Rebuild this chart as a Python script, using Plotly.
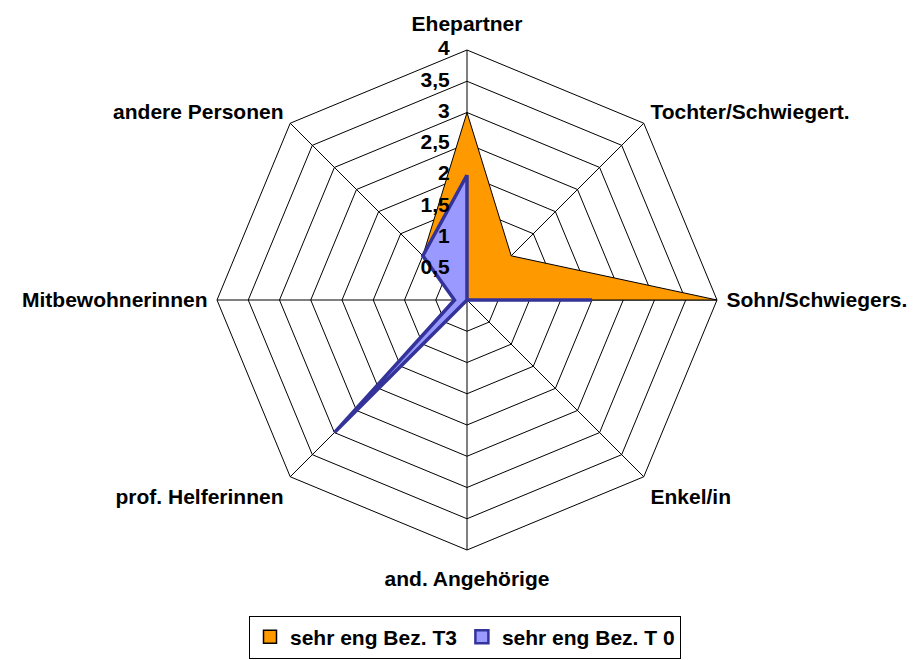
import plotly.graph_objects as go

categories = ["Ehepartner", "Tochter/Schwiegert.", "Sohn/Schwiegers.", "Enkel/in",
              "and. Angehörige", "prof. Helferinnen", "Mitbewohnerinnen", "andere Personen"]
t3_values = [3, 1, 4, 0, 0, 3, 0.2, 1]
t0_values = [2, 0, 2, 0, 0, 3, 0.2, 1]
tick_vals = [0, 0.5, 1, 1.5, 2, 2.5, 3, 3.5, 4]
tick_text = ["0", "0,5", "1", "1,5", "2", "2,5", "3", "3,5", "4"]
series_names = ["sehr eng Bez. T3", "sehr eng Bez. T 0"]

FONT = "Liberation Sans, Arial, sans-serif"
FS = 21
BOLD = dict(size=FS, family=FONT, color="black", weight="bold")

# labels on the vertical axis sit a little further out than the others
vertical_cats = [categories[0], categories[4]]
other_cats = [c for c in categories if c not in vertical_cats]

cat_closed = categories + [categories[0]]
fig = go.Figure()
fig.add_trace(go.Scatterpolar(
    r=t3_values + [t3_values[0]], theta=cat_closed, mode="lines", fill="toself",
    name=series_names[0], fillcolor="#FF9900", showlegend=False, hoverinfo="skip",
    line=dict(color="#000000", width=1)))
fig.add_trace(go.Scatterpolar(
    r=t0_values + [t0_values[0]], theta=cat_closed, mode="lines", fill="toself",
    name=series_names[1], fillcolor="#9999FF", showlegend=False, hoverinfo="skip",
    line=dict(color="#333399", width=3.5)))
# radial tick labels drawn above the fills
fig.add_trace(go.Scatterpolar(
    r=tick_vals, theta=[categories[0]] * len(tick_vals), mode="markers+text",
    text=tick_text, textposition="middle left", textfont=BOLD, showlegend=False,
    hoverinfo="skip", marker=dict(size=26, opacity=0)))
# category labels on slightly larger, invisible polars
for sp in ["polar2", "polar3"]:
    fig.add_trace(go.Scatterpolar(
        r=[None] * len(categories), theta=categories, mode="lines", subplot=sp,
        showlegend=False, hoverinfo="skip"))
# legend entries with square symbols
fig.add_trace(go.Scatterpolar(
    r=[None], theta=[categories[0]], mode="markers", name=series_names[0],
    marker=dict(symbol="square", size=13, color="#FF9900", line=dict(color="black", width=1.5))))
fig.add_trace(go.Scatterpolar(
    r=[None], theta=[categories[0]], mode="markers", name=series_names[1],
    marker=dict(symbol="square", size=13, color="#9999FF", line=dict(color="#333399", width=2.5))))

W, H = 918, 660
OFF = 8  # page body margin
cx, cy, R = 467 - OFF, 300 - OFF, 250
R2, R3 = 259, 264
mt = cy - R3
pw = 2 * R3


def inset(r):
    v = (R3 - r) / pw
    return [v, 1 - v]


def label_axis(shown):
    return dict(rotation=90, direction="clockwise", showline=False, showgrid=False,
                ticks="", tickfont=BOLD, categoryarray=categories, categoryorder="array",
                tickmode="array", tickvals=categories,
                ticktext=[c if c in shown else "" for c in categories])


fig.update_layout(
    width=W, height=H,
    margin=dict(l=cx - R3, r=W - (cx + R3), t=mt, b=H - (cy + R3), autoexpand=False),
    paper_bgcolor="white", plot_bgcolor="white",
    font=dict(family=FONT, color="black"),
    polar=dict(
        domain=dict(x=inset(R), y=inset(R)),
        bgcolor="white",
        gridshape="linear",
        radialaxis=dict(range=[0, 4], tickvals=tick_vals, showticklabels=False,
                        angle=90, showline=False, gridcolor="black", gridwidth=1, ticks="",
                        layer="below traces"),
        angularaxis=dict(rotation=90, direction="clockwise", showline=True, linecolor="black",
                         linewidth=1, gridcolor="black", gridwidth=1, ticks="",
                         showticklabels=False, layer="below traces"),
    ),
    polar2=dict(
        domain=dict(x=inset(R2), y=inset(R2)),
        bgcolor="rgba(0,0,0,0)", gridshape="linear",
        radialaxis=dict(range=[0, 4], visible=False, showgrid=False),
        angularaxis=label_axis(other_cats),
    ),
    polar3=dict(
        domain=dict(x=[0, 1], y=[0, 1]),
        bgcolor="rgba(0,0,0,0)", gridshape="linear",
        radialaxis=dict(range=[0, 4], visible=False, showgrid=False),
        angularaxis=label_axis(vertical_cats),
    ),
    legend=dict(orientation="h", x=(465 - OFF - (cx - R3)) / pw, xanchor="center",
                y=(mt + pw - (637 - OFF)) / pw, yanchor="middle",
                bordercolor="black", borderwidth=1, bgcolor="white",
                font=BOLD, itemwidth=30, tracegroupgap=0),
)
fig.write_html("out.html")
